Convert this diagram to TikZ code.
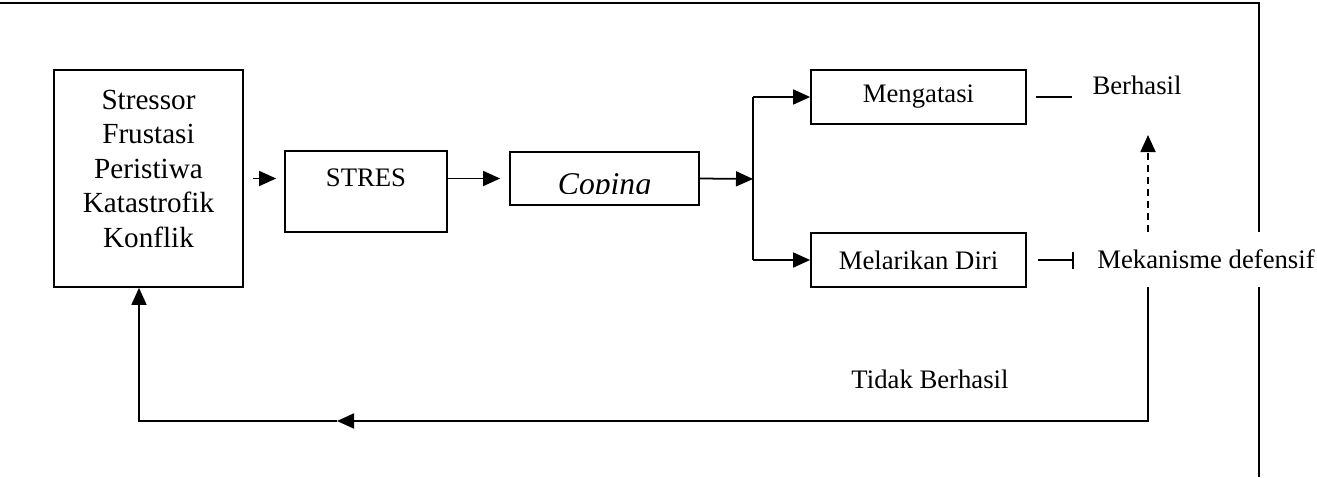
\documentclass[tikz,border=0pt]{standalone}
\usepackage{fontspec}
\setmainfont{Liberation Serif}
\usetikzlibrary{positioning,arrows.meta}

\begin{document}
\begin{tikzpicture}[x=0.2mm,y=-0.2mm,
  box/.style={draw,line width=1pt,inner sep=0pt,font=\fontsize{15.2}{18}\selectfont},
  arr/.style={-{Triangle[length=3.4mm,width=3mm]},line width=1pt},
  lab/.style={font=\fontsize{15.2}{18}\selectfont,inner sep=0pt},
  frame/.style={line width=1.6pt}
]
\useasboundingbox (0,0) rectangle (1317,477);
\draw[frame] (0,3) -- (1259,3) -- (1259,477);

% boxes
\node[box,minimum width=37.8mm,minimum height=43.4mm,align=center,font=\fontsize{16.6}{19.6}\selectfont] (stressor) at (148.5,178.5) {Stressor\\Frustasi\\Peristiwa\\Katastrofik\\Konflik\\[-3mm]};
\node[box,minimum width=32.4mm,minimum height=16.2mm] (stres) at (366,191.5) {};
\node[lab] (strestxt) at (366,178) {STRES};
\node[box,minimum width=37.8mm,minimum height=10.6mm] (coping) at (604.5,178.5) {};
\begin{scope}
  \clip (510,152) rectangle (699,193.5);
  \node[anchor=base,inner sep=0pt,font=\fontsize{18}{20}\selectfont\itshape] (copingtxt) at (604.5,194) {Coping};
\end{scope}
\node[box,minimum width=43mm,minimum height=10.8mm] (atasi) at (918.5,97) {Mengatasi};
\node[box,minimum width=43mm,minimum height=10.8mm] (lari) at (918.5,260) {Melarikan Diri};

% labels
\node[lab] (berhasil) at (1137,85) {Berhasil};
\node[lab,fill=white,minimum height=11mm,inner xsep=1mm] (defensif) at (1206,259.5) {Mekanisme defensif};
\node[lab] (gagal) at (930,379) {Tidak Berhasil};

\coordinate (split) at (753,179);
\coordinate (riser) at (1148,421);
\coordinate (dashtip) at (1148,135);
\coordinate (fbmid) at (337,421);
\coordinate (fbleft) at (139,421);

% connectors
\draw[arr,shorten <=1.8mm,shorten >=1.6mm] (stressor.east) -- (stressor.east -| stres.west);
\draw[arr,shorten >=1.8mm] (stres.east |- coping.west) -- (coping.west);
\draw[arr] (coping.east) -- (split);
\draw[line width=1pt] (split |- atasi.west) -- (split |- lari.west);
\draw[arr] (split |- atasi.west) -- (atasi.west);
\draw[arr] (split |- lari.west) -- (lari.west);
\draw[line width=1pt,shorten <=1.8mm] (atasi.east) -- ++(45,0);
\draw[-{Bar[width=3.4mm]},line width=1pt,shorten <=2.2mm] (lari.east) -- ++(47,0);
\draw[arr,dash pattern=on 1.4mm off 1mm] (defensif.north -| riser) -- (dashtip);
\draw[arr] (defensif.south -| riser) |- (fbmid);
\draw[arr] (fbmid) -| (stressor.south -| fbleft);
\end{tikzpicture}
\end{document}
